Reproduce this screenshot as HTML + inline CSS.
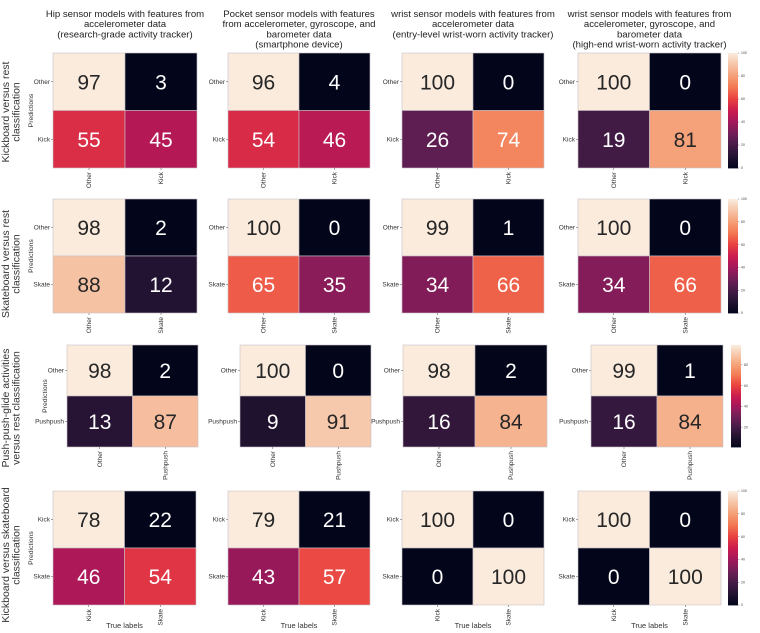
<!DOCTYPE html>
<html><head><meta charset="utf-8"><style>
body{margin:0;background:#fff;}
svg{display:block;font-family:"Liberation Sans",sans-serif;}
</style></head><body>
<svg id="fig" width="760" height="633" viewBox="0 0 760 633" xmlns="http://www.w3.org/2000/svg"></svg>
<script>
// ---- data ----
const colTitles = [
  ["Hip sensor models with features from","accelerometer data","(research-grade activity tracker)"],
  ["Pocket sensor models with features","from accelerometer, gyroscope, and","barometer data","(smartphone device)"],
  ["wrist sensor models with features from","accelerometer data","(entry-level wrist-worn activity tracker)"],
  ["wrist sensor models with features from","accelerometer, gyroscope, and","barometer data","(high-end wrist-worn activity tracker)"]
];
const rowTitles = [
  ["Kickboard versus rest","classification"],
  ["Skateboard versus rest","classification"],
  ["Push-push-glide activities","versus rest classification"],
  ["Kickboard versus skateboard","classification"]
];
const rowClasses = [["Other","Kick"],["Other","Skate"],["Other","Pushpush"],["Kick","Skate"]];
const row1Values = [[97,3,55,45],[96,4,54,46],[100,0,26,74],[100,0,19,81]];
const row2Values = [[98,2,88,12],[100,0,65,35],[99,1,34,66],[100,0,34,66]];
const row3Values = [[98,2,13,87],[100,0,9,91],[98,2,16,84],[99,1,16,84]];
const row4Values = [[78,22,46,54],[79,21,43,57],[100,0,0,100],[100,0,0,100]];
const colorbarTicks = [0,20,40,60,80,100];

// ---- layout ----
const allValues=[row1Values,row2Values,row3Values,row4Values];
const rowY=[[53,168],[199,313],[345,447],[491,605]];
const colX=[
  [[53,197],[228,370],[402,544],[578,721]],
  [[53,197],[228,370],[402,544],[578,721]],
  [[67,198],[240,371],[403,547],[591,723]],
  [[53,196],[228,370],[402,544],[578,721]]
];
const cbX=[[728,738],[728,738],[731,741],[728,738]];
const stops=[[0,[3,5,26]],[0.1,[34,19,49]],[0.2,[69,28,71]],[0.3,[112,31,87]],[0.4,[161,24,91]],[0.5,[203,27,79]],[0.6,[232,63,63]],[0.7,[243,118,81]],[0.8,[245,158,117]],[0.9,[246,196,166]],[1,[250,235,221]]];
function cmapT(t){t=Math.max(0,Math.min(1,t));for(let i=1;i<stops.length;i++){if(t<=stops[i][0]){const a=stops[i-1],b=stops[i],f=(t-a[0])/(b[0]-a[0]);const c=a[1].map((x,k)=>Math.round(x+(b[1][k]-x)*f));return `rgb(${c})`;}}return 'rgb(250,235,221)';}
const svg=document.getElementById('fig');
const NS='http://www.w3.org/2000/svg';
function mk(tag,attrs,parent){const e=document.createElementNS(NS,tag);for(const k in attrs)e.setAttribute(k,attrs[k]);(parent||svg).appendChild(e);return e;}
function txt(s,attrs,parent){const e=mk('text',attrs,parent);e.textContent=s;return e;}

colTitles.forEach((lines,c)=>{
  const [x0,x1]=colX[0][c];
  const g=mk('g',{});
  
  
  lines.forEach((l,i)=>txt(l,{x:(x0+x1)/2,y:17+i*10.2,'font-size':'9.6','text-anchor':'middle',fill:'#222'},g));
});
const rowCy=[112,264,408,555];
rowTitles.forEach((lines,r)=>{
  const g=mk('g',{transform:`translate(0,${rowCy[r]}) rotate(-90)`});
  
  
  lines.forEach((l,i)=>txt(l,{x:0,y:9+i*10.5,'font-size':'10.5','text-anchor':'middle',fill:'#333'},g));
});

for(let r=0;r<4;r++){
  const [y0,y1]=rowY[r];const ym=(y0+y1)/2;
  let cbMin=0,cbMax=100;
  for(let c=0;c<4;c++){
    const [x0,x1]=colX[r][c];const xm=(x0+x1)/2;
    const vals=allValues[r][c];
    const vmin=Math.min(...vals),vmax=Math.max(...vals);
    if(c===3){cbMin=vmin;cbMax=vmax;}
    const g=mk('g',{});
    
    
    const cells=[[x0,y0,xm,ym],[xm,y0,x1,ym],[x0,ym,xm,y1],[xm,ym,x1,y1]];
    cells.forEach((cc,i)=>{
      const v=vals[i];
      const t=(vmax>vmin)?(v-vmin)/(vmax-vmin):0.5;
      const rc=mk('rect',{x:cc[0],y:cc[1],width:cc[2]-cc[0],height:cc[3]-cc[1],fill:cmapT(t),stroke:'#c8c2c8','stroke-width':'0.6'},g);
      
      
      const tx=txt(String(v),{x:(cc[0]+cc[2])/2,y:(cc[1]+cc[3])/2+7.5,'font-size':'21','text-anchor':'middle',fill:t>=0.78?'#262626':'#ffffff'},g);
      
      
    });
    const cls=rowClasses[r];
    [ (y0+ym)/2,(ym+y1)/2 ].forEach((yy,i)=>{
      mk('line',{x1:x0-2,x2:x0,y1:yy,y2:yy,stroke:'#555','stroke-width':'0.5'},g);
      const t=txt(cls[i],{x:x0-3,y:yy+2.2,'font-size':'6.5','text-anchor':'end',fill:'#333'},g);
      
      
    });
    [ (x0+xm)/2,(xm+x1)/2 ].forEach((xx,i)=>{
      mk('line',{x1:xx,x2:xx,y1:y1,y2:y1+2,stroke:'#555','stroke-width':'0.5'},g);
      const t=txt(cls[i],{x:0,y:0,'font-size':'6.5','text-anchor':'end',fill:'#333',transform:`translate(${xx+2.2},${y1+4}) rotate(-90)`},g);
      
      
    });
    if(c===0){
      const t=txt('Predictions',{x:0,y:0,'font-size':'6.8','text-anchor':'middle',fill:'#333',transform:`translate(${x0-20},${ym}) rotate(-90)`},g);
      
      
    }
    if(r===3){
      const t=txt('True labels',{x:xm,y:628,'font-size':'7.5','text-anchor':'middle',fill:'#333'},g);
      
      
    }
  }
  const [cx0,cx1]=cbX[r];
  const cg=mk('g',{});
  
  
  const n=60,h=(y1-y0)/n;
  for(let i=0;i<n;i++){
    mk('rect',{x:cx0,y:y1-(i+1)*h,width:cx1-cx0,height:h+0.4,fill:cmapT((i+0.5)/n)},cg);
  }
  colorbarTicks.forEach(tk=>{
    if(tk<cbMin||tk>cbMax)return;
    const yy=y1-((tk-cbMin)/(cbMax-cbMin))*(y1-y0);
    mk('line',{x1:cx1,x2:cx1+1.5,y1:yy,y2:yy,stroke:'#555','stroke-width':'0.4'},cg);
    txt(String(tk),{x:cx1+3,y:yy+1.2,'font-size':'3.5',fill:'#444'},cg);
  });
}
</script>
</body></html>
